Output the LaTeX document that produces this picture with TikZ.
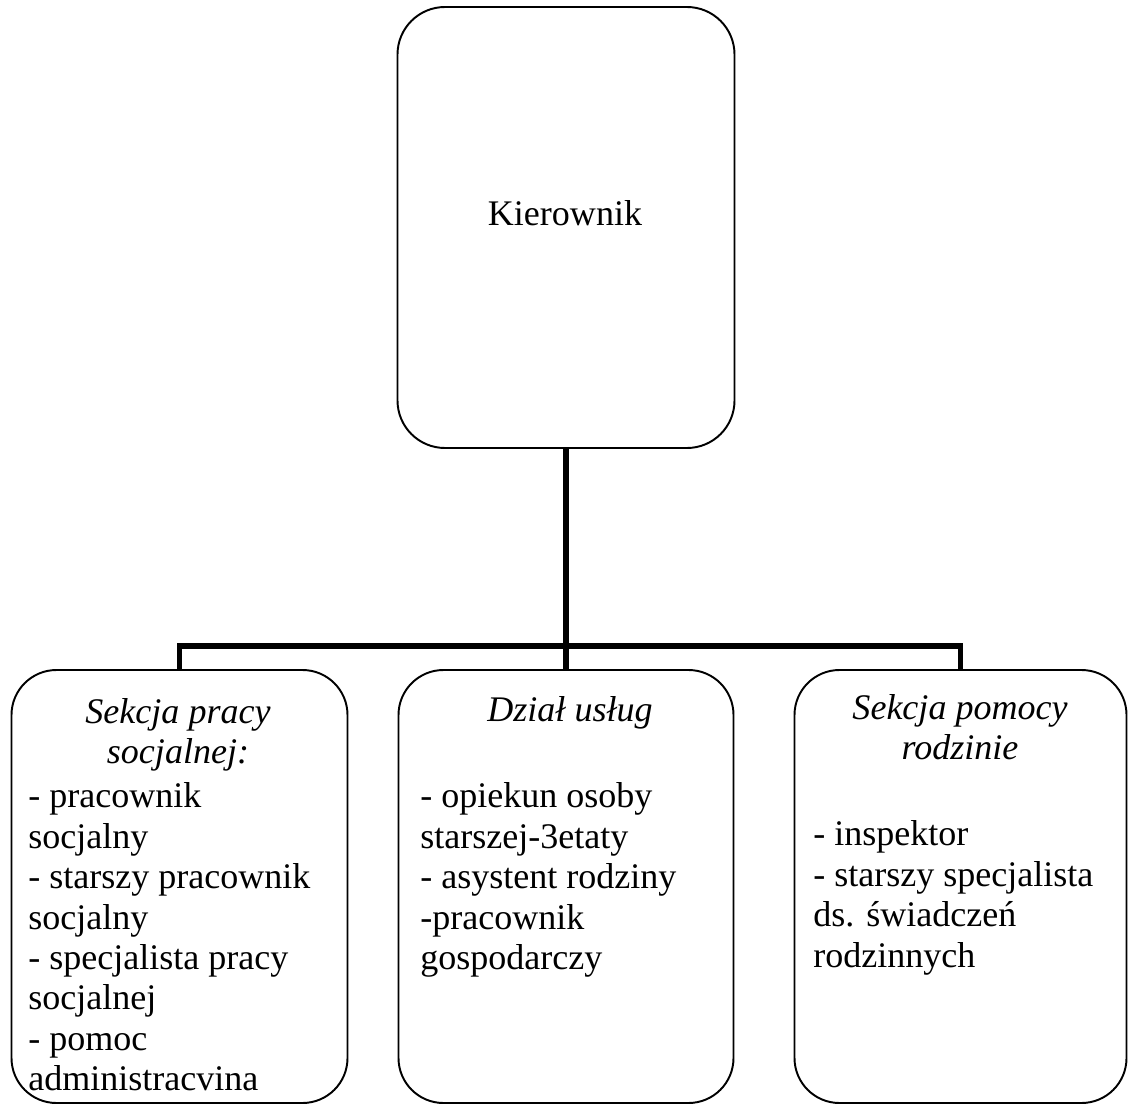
\documentclass[tikz,border=0pt]{standalone}
\usepackage{fontspec}
\setmainfont{Liberation Serif}
\usepackage{tikz}
\usetikzlibrary{positioning,calc}

\begin{document}
\begin{tikzpicture}[
        box/.style={rectangle, draw=black, line width=1.1pt, rounded corners=0.9cm, minimum width=6.7cm, minimum height=8.66cm, inner sep=0pt},
        title/.style={anchor=north, inner sep=0pt, align=center, font=\fontsize{20.5}{23}\selectfont\itshape},
        list/.style={anchor=north west, inner sep=0pt, align=left, font=\fontsize{20.5}{23}\selectfont},
        bus/.style={line width=3.2pt, black}]

        \useasboundingbox (0,0) rectangle (22.58,-22.26);

        % Top Node
        \node[box, minimum width=6.74cm, minimum height=8.82cm, rounded corners=0.95cm] (KIER) at (11.32,-4.55) {};
        \node[anchor=base, inner sep=0pt, font=\fontsize{20.5}{23}\selectfont] (KIERTXT) at (11.3,-4.5) {Kierownik};

        % Section Nodes
        \node[box, minimum width=6.72cm] (SPS) at (3.59,-17.73) {};
        \node[box] (DU) at (11.32,-17.73) {};
        \node[box, minimum width=6.64cm] (SPR) at (19.21,-17.73) {};

        \node[title] (SPSTIT) at (3.56,-13.96) {Sekcja pracy\\socjalnej:};
        \node[list] (SPSLST) at (0.56,-15.65) {- pracownik\\socjalny\\- starszy pracownik\\socjalny\\- specjalista pracy\\socjalnej\\- pomoc\\administracvina};

        \node[title] (DUTIT) at (11.4,-13.92) {Dział usług};
        \node[list] (DULST) at (8.4,-15.65) {- opiekun osoby\\starszej-3etaty\\- asystent rodziny\\-pracownik\\gospodarczy};

        \node[title] (SPRTIT) at (19.2,-13.88) {Sekcja pomocy\\rodzinie};
        \node[list] (SPRLST) at (16.26,-16.41) {- inspektor\\- starszy specjalista\\ds. świadczeń\\rodzinnych};

        % Paths
        \coordinate (JOIN) at ($(KIER.south |- 0,-12.92)$);
        \draw[bus] (KIER.south) -- (KIER.south |- DU.north);
        \draw[bus] (SPS.north) |- (JOIN) -| (SPR.north);

    \end{tikzpicture}
\end{document}
